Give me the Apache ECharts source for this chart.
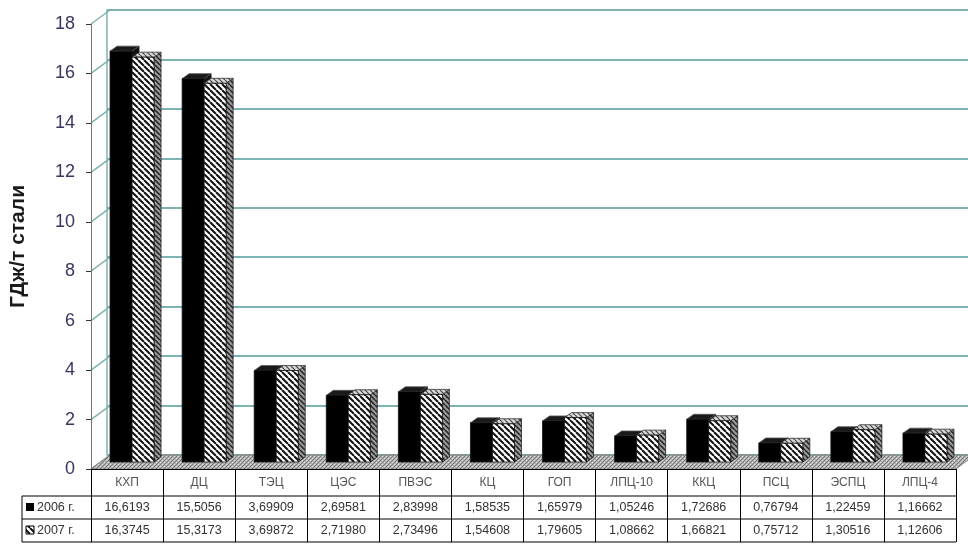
<!DOCTYPE html>
<html><head><meta charset="utf-8">
<script src="https://cdn.jsdelivr.net/npm/echarts/dist/echarts.min.js"></script>
<style>html,body{margin:0;padding:0;background:#fff}#c{width:968px;height:544px}</style>
</head><body><div id="c"></div><script>
const categories = ['КХП','ДЦ','ТЭЦ','ЦЭС','ПВЭС','КЦ','ГОП','ЛПЦ-10','ККЦ','ПСЦ','ЭСПЦ','ЛПЦ-4'];
const values2006 = [16.6193,15.5056,3.69909,2.69581,2.83998,1.58535,1.65979,1.05246,1.72686,0.76794,1.22459,1.16662];
const values2007 = [16.3745,15.3173,3.69872,2.71980,2.73496,1.54608,1.79605,1.08662,1.66821,0.75712,1.30516,1.12606];
const seriesNames = ['2006 г.','2007 г.'];
const yTicks = [0,2,4,6,8,10,12,14,16,18];
const yAxisName = 'ГДж/т стали';

function fmt(v){ return v.toFixed(v >= 10 ? 4 : 5).replace('.', ','); }

function hatch(bg, fg, lw, size){
  const c = document.createElement('canvas'); c.width = c.height = size;
  const g = c.getContext('2d'); g.fillStyle = bg; g.fillRect(0,0,size,size);
  g.strokeStyle = fg; g.lineWidth = lw; g.beginPath();
  for (let k=-1;k<=1;k++){ g.moveTo(k*size,0); g.lineTo(k*size+size,size); }
  g.stroke(); return c;
}
function speckle(){
  const c = document.createElement('canvas'); c.width = c.height = 4;
  const g = c.getContext('2d'); g.fillStyle = '#b4b4b4'; g.fillRect(0,0,4,4);
  g.fillStyle = '#767676'; g.fillRect(0,0,1,1); g.fillRect(2,2,1,1); g.fillRect(1,3,1,1); g.fillRect(3,1,1,1);
  g.fillStyle = '#dcdcdc'; g.fillRect(2,0,1,1); g.fillRect(0,2,1,1);
  return c;
}
const patFront = {image: hatch('#ffffff','#111111',2,6), repeat:'repeat'};
const patSide  = {image: hatch('#9a9a9a','#222222',1.5,5), repeat:'repeat'};
const patTop   = {image: hatch('#d8d8d8','#444444',1.2,5), repeat:'repeat'};
const patFloor = {image: speckle(), repeat:'repeat'};

const BAR_W = 22, PLANE_DX = 5, PLANE_DY = -7, DX = 7, DY = -5;
const WALL_DX = 19, WALL_DY = -14;
const GRID_COLOR = '#7fb2b2';

function barRender(si){
  return function(params, api){
    const i = api.value(0), v = api.value(1);
    const top = api.coord([i, v]), base = api.coord([i, 0]);
    const cx = top[0] + PLANE_DX;
    const x0 = si === 0 ? cx - BAR_W : cx, x1 = x0 + BAR_W;
    const yt = top[1] + PLANE_DY, yb = base[1] + PLANE_DY;
    const black = si === 0;
    return {type:'group', children:[
      {type:'polygon', shape:{points:[[x1,yb],[x1+DX,yb+DY],[x1+DX,yt+DY],[x1,yt]]},
       style:{fill: black ? '#111' : patSide, stroke:'#222', lineWidth:0.8}},
      {type:'polygon', shape:{points:[[x0,yt],[x1,yt],[x1+DX,yt+DY],[x0+DX,yt+DY]]},
       style:{fill: black ? '#1a1a1a' : patTop, stroke: black ? '#555' : '#333', lineWidth:0.8}},
      {type:'rect', shape:{x:x0, y:yt, width:BAR_W, height:yb-yt},
       style:{fill: black ? '#000' : patFront, stroke:'#111', lineWidth:0.8}}
    ]};
  };
}

const chart = echarts.init(document.getElementById('c'), null, {renderer:'canvas'});
chart.setOption({
  animation:false,
  backgroundColor:'#fff',
  grid:[
    {left:88, right:12, top:24, bottom:75},
    {left:88+WALL_DX, right:-10, top:24+WALL_DY, bottom:75-WALL_DY}
  ],
  xAxis:[
    {type:'category', gridIndex:0, data:categories, boundaryGap:true,
     axisLine:{show:true, lineStyle:{color:'#000', width:1}},
     axisTick:{show:true, length:73, inside:false, interval:0, lineStyle:{color:'#000', width:1}},
     axisLabel:{interval:0, margin:0,
       formatter:function(val, idx){
         return '{c|' + val + '}\n{v|' + fmt(values2006[idx]) + '}\n{v|' + fmt(values2007[idx]) + '}';
       },
       rich:{
         c:{fontFamily:'Liberation Sans', fontSize:12, color:'#555', lineHeight:27, align:'center'},
         v:{fontFamily:'Liberation Sans', fontSize:12.5, color:'#333', lineHeight:23, align:'center'}
       }},
     z:5},
    {type:'category', gridIndex:1, data:categories, show:false}
  ],
  yAxis:[
    {type:'value', gridIndex:0, min:0, max:18, interval:2,
     name:yAxisName, nameLocation:'middle', nameRotate:90, nameGap:62,
     nameTextStyle:{fontFamily:'Liberation Sans', fontWeight:'bold', fontSize:21, color:'#1a1a1a'},
     axisLine:{show:true, lineStyle:{color:'#4f8384', width:1}},
     axisTick:{show:true, length:5, lineStyle:{color:'#333'}},
     axisLabel:{margin:16, fontFamily:'Liberation Sans', fontSize:18, color:'#3a3560'},
     splitLine:{show:false}, z:5},
    {type:'value', gridIndex:1, min:0, max:18, interval:2,
     axisLine:{show:true, lineStyle:{color:GRID_COLOR, width:1.5}},
     axisTick:{show:false}, axisLabel:{show:false},
     splitLine:{show:true, lineStyle:{color:GRID_COLOR, width:2}}}
  ],
  series:[
    {type:'custom', xAxisIndex:0, yAxisIndex:0, z:1, silent:true,
     data:yTicks.map(t => [0, t]),
     renderItem:function(params, api){
       const cs = params.coordSys;
       const p = api.coord([0, api.value(1)]);
       return {type:'line', shape:{x1:cs.x, y1:p[1], x2:cs.x+WALL_DX, y2:p[1]+WALL_DY},
               style:{stroke:GRID_COLOR, lineWidth:1.5}};
     }},
    {type:'custom', xAxisIndex:0, yAxisIndex:0, z:2, silent:true,
     data:[[0,0]],
     renderItem:function(params, api){
       const cs = params.coordSys;
       const y0 = api.coord([0, 0])[1];
       const xl = cs.x, xr = cs.x + cs.width;
       return {type:'polygon', shape:{points:[[xl,y0],[xr,y0],[xr+WALL_DX,y0+WALL_DY],[xl+WALL_DX,y0+WALL_DY]]},
               style:{fill:patFloor, stroke:'#777', lineWidth:0.8}};
     }},
    {type:'custom', name:seriesNames[0], xAxisIndex:0, yAxisIndex:0, z:3,
     data:values2006.map((v,i)=>[i,v]), encode:{x:0,y:1}, renderItem:barRender(0)},
    {type:'custom', name:seriesNames[1], xAxisIndex:0, yAxisIndex:0, z:4,
     data:values2007.map((v,i)=>[i,v]), encode:{x:0,y:1}, renderItem:barRender(1)}
  ],
  graphic:[
    {type:'line', shape:{x1:22,y1:496,x2:956,y2:496}, style:{stroke:'#000',lineWidth:1}},
    {type:'line', shape:{x1:22,y1:519,x2:956,y2:519}, style:{stroke:'#000',lineWidth:1}},
    {type:'line', shape:{x1:22,y1:542,x2:956,y2:542}, style:{stroke:'#000',lineWidth:1}},
    {type:'line', shape:{x1:22,y1:496,x2:22,y2:542}, style:{stroke:'#000',lineWidth:1}},
    {type:'rect', shape:{x:26,y:503,width:8,height:8}, style:{fill:'#000'}},
    {type:'text', x:37, y:508, style:{text:seriesNames[0], fontFamily:'Liberation Sans', fontSize:12.5, fill:'#333', verticalAlign:'middle'}},
    {type:'rect', shape:{x:26,y:526,width:8,height:8}, style:{fill:patFront, stroke:'#000', lineWidth:1}},
    {type:'text', x:37, y:531, style:{text:seriesNames[1], fontFamily:'Liberation Sans', fontSize:12.5, fill:'#333', verticalAlign:'middle'}}
  ]
});
</script></body></html>
